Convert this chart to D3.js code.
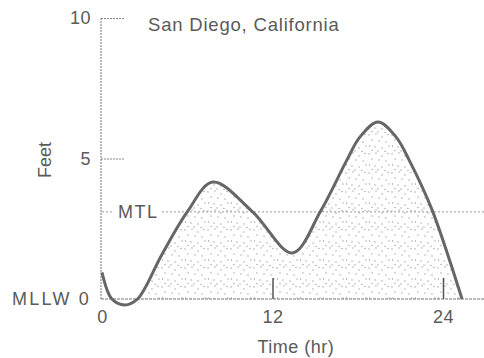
<!DOCTYPE html>
<html><head><meta charset="utf-8">
<script src="https://cdn.jsdelivr.net/npm/d3@7"></script>
<style>
html,body{margin:0;padding:0;background:#fff;}
svg{display:block;font-family:"Liberation Sans",Arial,sans-serif;}
</style></head>
<body>
<svg id="chart" width="484" height="358"></svg>
<script>
// Data
const hours = [0, 0.7, 1.6, 2.5, 4.2, 6.0, 7.8, 10.6, 13.4, 15.4, 17.24, 18.16, 19.43, 20.69, 21.61, 23.23, 25.34];
const feet  = [0.95, 0, -0.21, 0, 1.57, 3.1, 4.16, 3.1, 1.64, 3.14, 4.95, 5.77, 6.30, 5.77, 4.95, 3.17, 0];
const xTicks = [0, 12, 24];
const yTicks = [0, 5, 10];
const yTickLabels = ["MLLW 0", "5", "10"];
const mtlValue = 3.1;
const mtlLabel = "MTL";
const title = "San Diego, California";
const xTitle = "Time (hr)";
const yTitle = "Feet";
const fillStart = 2.5;

const W = 484, H = 358;
const svg = d3.select("#chart");
const x = d3.scaleLinear().domain([0, 24]).range([102, 443]);
const y = d3.scaleLinear().domain([0, 10]).range([299, 18]);
const pts = hours.map((h, i) => ({h, v: feet[i]}));
const grey = "#666";
const textCol = "#5a5a5a";

// stipple pattern
const defs = svg.append("defs");
const pat = defs.append("pattern").attr("id", "stip").attr("patternUnits", "userSpaceOnUse")
  .attr("width", 23).attr("height", 19);
const dots = [[1,2],[8,1],[14,4],[20,1.5],[4,7],[11,8],[18,9],[1.5,13],[7,14],[14,15],[21,13],[10,18],[17,18.5],[4,17.5]];
dots.forEach(d => pat.append("circle").attr("cx", d[0]).attr("cy", d[1]).attr("r", 0.65).attr("fill", "#999"));

defs.append("clipPath").attr("id", "clipFill").append("rect")
  .attr("x", x(fillStart)).attr("y", 0).attr("width", W).attr("height", y(0));

const curve = d3.curveCatmullRom.alpha(0.5);
svg.append("path").datum(pts)
  .attr("d", d3.area().x(d => x(d.h)).y0(y(0)).y1(d => y(d.v)).curve(curve))
  .attr("fill", "url(#stip)").attr("clip-path", "url(#clipFill)");

// axes
const axisStyle = g => {
  g.selectAll(".domain").remove();
  g.selectAll(".tick line").attr("stroke", "#888").attr("stroke-dasharray", "2,1");
  g.selectAll(".tick text").attr("fill", textCol).attr("font-size", 18)
    .attr("font-family", "Liberation Sans, Arial, sans-serif").attr("letter-spacing", 0.5);
};
const yAxis = svg.append("g").attr("transform", `translate(${x(0) - 1},0)`)
  .call(d3.axisLeft(y).tickValues(yTicks).tickSize(-24).tickPadding(10)
    .tickFormat((d, i) => yTickLabels[i]))
  .call(axisStyle);
yAxis.selectAll(".tick").filter(d => d === 0).select("line").remove();
yAxis.selectAll(".tick").filter(d => d === 0).select("text").attr("letter-spacing", 2.2).attr("dy", "0.3em");

const xAxis = svg.append("g").attr("transform", `translate(0,${y(0)})`)
  .call(d3.axisBottom(x).tickValues(xTicks).tickSize(-21).tickPadding(11))
  .call(axisStyle);
xAxis.selectAll(".tick").filter(d => d === 0).select("line").remove();
xAxis.selectAll(".tick line").attr("stroke", "#555").attr("stroke-dasharray", null).attr("stroke-width", 1.5);

// axis lines
svg.append("line").attr("x1", x(0) - 1).attr("x2", x(0) - 1).attr("y1", y(10)).attr("y2", y(0))
  .attr("stroke", "#777").attr("stroke-dasharray", "2,1");
svg.append("line").attr("x1", x(0) - 1).attr("x2", W).attr("y1", y(0)).attr("y2", y(0))
  .attr("stroke", "#777").attr("stroke-dasharray", "3,1");

// MTL line
svg.append("line").attr("x1", x(0)).attr("x2", x(0) + 10).attr("y1", y(mtlValue)).attr("y2", y(mtlValue))
  .attr("stroke", "#999").attr("stroke-dasharray", "2,2");
svg.append("line").attr("x1", x(0) + 60).attr("x2", W).attr("y1", y(mtlValue)).attr("y2", y(mtlValue))
  .attr("stroke", "#999").attr("stroke-dasharray", "2,2");
svg.append("text").attr("x", x(0) + 16).attr("y", y(mtlValue) + 6.5)
  .attr("font-size", 18).attr("letter-spacing", 1.5).attr("fill", textCol).text(mtlLabel);

// curve
svg.append("path").datum(pts)
  .attr("d", d3.line().x(d => x(d.h)).y(d => y(d.v)).curve(curve))
  .attr("fill", "none").attr("stroke", grey).attr("stroke-width", 3).attr("stroke-linejoin", "round");

// titles
svg.append("text").attr("x", 148).attr("y", 31).attr("font-size", 18.5).attr("letter-spacing", 0.8)
  .attr("fill", textCol).text(title);
svg.append("text").attr("x", x(13.65)).attr("y", 353).attr("text-anchor", "middle")
  .attr("font-size", 18).attr("letter-spacing", 0.5).attr("fill", textCol).text(xTitle);
svg.append("text").attr("transform", `translate(51,160) rotate(-90)`).attr("text-anchor", "middle")
  .attr("font-size", 18).attr("fill", textCol).text(yTitle);
</script>
</body></html>
